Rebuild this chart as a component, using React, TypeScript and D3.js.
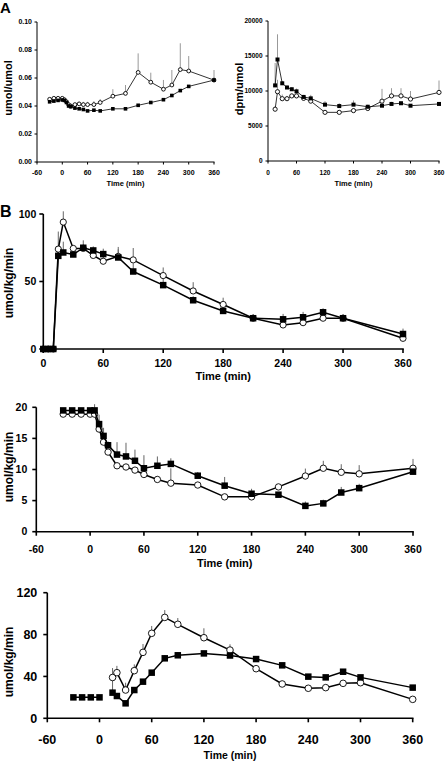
import React from 'react';
import * as d3 from 'd3';

// ---------- Panel A (left): umol/umol ----------
const aLeftTime = [-30, -20, -10, 0, 5, 10, 15, 20, 30, 40, 50, 60, 75, 90, 120, 150, 180, 210, 240, 260, 280, 300, 360];
const aLeftFilled = [0.043, 0.0435, 0.044, 0.0443, 0.044, 0.0425, 0.040, 0.0395, 0.0385, 0.038, 0.0375, 0.0365, 0.037, 0.0365, 0.038, 0.038, 0.0405, 0.0425, 0.0445, 0.0475, 0.051, 0.054, 0.0585];
const aLeftFilledErr = [0, 0, 0, 0, 0, 0, 0, 0, 0, 0, 0, 0, 0, 0, 0, 0, 0, 0, 0, 0, 0, 0, 0];
const aLeftOpen = [0.0448, 0.0455, 0.0455, 0.0455, 0.0445, 0.043, 0.041, 0.040, 0.041, 0.0415, 0.041, 0.041, 0.041, 0.0425, 0.047, 0.049, 0.064, 0.057, 0.052, 0.055, 0.066, 0.065, 0.0585];
const aLeftOpenErr = [0.001, 0.001, 0.001, 0.001, 0.001, 0.001, 0.001, 0.001, 0.001, 0.0015, 0.002, 0.002, 0.0025, 0.0025, 0.005, 0.006, 0.0136, 0.0068, 0.0066, 0.0107, 0.0188, 0.0107, 0.0072];
const aLeftXTicks = [-60, 0, 60, 120, 180, 240, 300, 360];
const aLeftYTicks = [0, 0.02, 0.04, 0.06, 0.08, 0.10];

// ---------- Panel A (right): dpm/umol ----------
const aRightTime = [15, 20, 30, 40, 50, 60, 75, 90, 120, 150, 180, 210, 240, 260, 280, 300, 360];
const aRightFilled = [10800, 14500, 11100, 10500, 10250, 9950, 9150, 8950, 8050, 7850, 8050, 7750, 7900, 8150, 8250, 7900, 8150];
const aRightFilledErr = [3200, 3600, 300, 300, 300, 400, 300, 500, 500, 400, 600, 300, 200, 300, 300, 200, 200];
const aRightOpen = [7400, 9900, 8900, 8900, 9300, 9300, 8950, 8550, 6950, 6950, 7200, 7500, 8550, 9300, 9300, 8850, 9800];
const aRightOpenErr = [400, 1700, 600, 400, 300, 300, 300, 300, 300, 300, 300, 300, 1750, 1100, 1100, 1150, 1700];
const aRightXTicks = [0, 60, 120, 180, 240, 300, 360];
const aRightYTicks = [0, 5000, 10000, 15000, 20000];

// ---------- Panel B (top) ----------
const bTopTime = [0, 5, 10, 15, 20, 30, 40, 50, 60, 75, 90, 120, 150, 180, 210, 240, 260, 280, 300, 360];
const bTopFilled = [0, 0, 0, 69, 71.5, 70, 75, 73, 70.3, 67.8, 57.4, 47.3, 36.1, 28.2, 22.8, 22, 23.5, 27.2, 22.8, 11.1];
const bTopFilledErr = [0, 0, 0, 0, 8, 2, 5.5, 3, 4, 6, 6, 5, 3, 2, 3, 4, 4, 3, 2, 4];
const bTopOpen = [0, 0, 0, 74, 94, 74.5, 74.5, 69.3, 65, 68.6, 66, 54.4, 43, 33, 22.8, 17.8, 19.5, 22.8, 22.8, 7.9];
const bTopOpenErr = [0, 0, 0, 13, 8, 2, 3, 3, 5, 7, 8.8, 6, 6.5, 5, 2, 2, 2, 2, 3, 2];
const bTopXTicks = [0, 60, 120, 180, 240, 300, 360];
const bTopYTicks = [0, 50, 100];

// ---------- Panel B (middle) ----------
const bMidTime = [-30, -20, -10, 0, 5, 10, 15, 20, 30, 40, 50, 60, 75, 90, 120, 150, 180, 210, 240, 260, 280, 300, 360];
const bMidFilled = [19.5, 19.5, 19.5, 19.5, 19.5, 17.3, 15.4, 13.9, 12.4, 12.1, 11.4, 10.2, 10.6, 10.9, 9.0, 7.4, 6.1, 5.95, 4.15, 4.55, 6.3, 7.0, 9.65];
const bMidFilledErr = [0.3, 0.3, 0.3, 0.3, 1.0, 1.5, 1.3, 0.6, 2.0, 2.2, 1.8, 2.1, 1.5, 0.9, 0.6, 1.4, 0.8, 0, 0.7, 0.6, 0.9, 0.7, 0];
const bMidOpen = [18.9, 18.9, 18.9, 18.9, 18.9, 16.5, 14.4, 12.8, 10.6, 10.4, 9.9, 9.2, 8.4, 7.8, 7.5, 5.6, 5.6, 7.2, 8.95, 10.2, 9.55, 9.3, 10.2];
const bMidOpenErr = [0.3, 0.3, 0.3, 0.3, 0.3, 1.5, 0.8, 0.5, 0.5, 0.5, 0.5, 0.5, 0.5, 2.4, 0.5, 0, 0, 0.4, 1.2, 1.2, 1.3, 1.4, 1.5];
const bMidXTicks = [-60, 0, 60, 120, 180, 240, 300, 360];
const bMidYTicks = [0, 5, 10, 15, 20];

// ---------- Panel B (bottom) ----------
const bBotFilledTime = [-30, -20, -10, 0, 10, 15, 20, 30, 40, 50, 60, 75, 90, 120, 150, 180, 210, 240, 260, 280, 300, 360];
const bBotFilled = [20, 20, 20, 20, null, 24.5, 21.3, 14.3, 27, 35, 43.6, 57.3, 60.2, 62, 60, 56.6, 50.6, 39.8, 39.1, 44.5, 39.1, 29.3];
const bBotFilledErr = [0, 0, 0, 0, 0, 13, 0, 0, 0, 0, 2, 3, 3, 0, 0, 0, 0, 0, 0, 0, 0, 0];
const bBotOpenTime = [15, 20, 30, 40, 50, 60, 75, 90, 120, 150, 180, 210, 240, 260, 280, 300, 360];
const bBotOpen = [39, 43.6, 27, 45.5, 63, 81.2, 96.4, 89.8, 77, 65.2, 47.4, 32.8, 28.7, 29.3, 33.4, 34, 18.1];
const bBotOpenErr = [9, 6.5, 7, 6, 8, 7, 7, 6, 9, 5.5, 0, 0, 0, 0, 0, 0, 0];
const bBotXTicks = [-60, 0, 60, 120, 180, 240, 300, 360];
const bBotYTicks = [0, 40, 80, 120];

type Series = { t: number[]; v: (number | null)[]; e: number[]; kind: 'open' | 'filled' };
type PanelCfg = {
  xDomain: [number, number]; xRange: [number, number];
  yDomain: [number, number]; yRange: [number, number];
  xTicks: number[]; yTicks: number[]; yFmt: (d: number) => string;
  tickFont: number; xTickBase: number; yLabelGap: number; tickLen: number;
  axisW: number; lineW: number; sq: number; cr: number;
  yLabel: string; yLabelX: number; yLabelY: number; yLabelFont: number;
  xLabelY: number; xLabelFont: number; errColor: string;
  series: Series[];
};

const FONT = 'Liberation Sans, Arial, sans-serif';

function Panel({ c }: { c: PanelCfg }) {
  const x = d3.scaleLinear().domain(c.xDomain).range(c.xRange);
  const y = d3.scaleLinear().domain(c.yDomain).range(c.yRange);
  const line = d3.line<[number, number | null]>()
    .defined(d => d[1] !== null)
    .x(d => x(d[0]))
    .y(d => y(d[1] as number));
  const ordered = [...c.series].sort((a, b) => (a.kind === 'open' ? 0 : 1) - (b.kind === 'open' ? 0 : 1));
  const x0 = c.xRange[0];
  const y0 = c.yRange[0];
  const xMid = (c.xRange[0] + c.xRange[1]) / 2;
  return (
    <g>
      {/* axes */}
      <line x1={x0} x2={c.xRange[1] + c.axisW / 2} y1={y0} y2={y0} stroke="#000" strokeWidth={c.axisW} />
      <line x1={x0} x2={x0} y1={y0 + c.axisW / 2} y2={c.yRange[1]} stroke="#000" strokeWidth={c.axisW} />
      {c.xTicks.map(t => (
        <g key={'xt' + t}>
          <line x1={x(t)} x2={x(t)} y1={y0} y2={y0 + c.tickLen} stroke="#000" strokeWidth={c.axisW} />
          <text x={x(t)} y={c.xTickBase} textAnchor="middle" fontSize={c.tickFont} fontWeight="bold" fontFamily={FONT}>{t}</text>
        </g>
      ))}
      {c.yTicks.map(t => (
        <g key={'yt' + t}>
          <line x1={x0 - c.tickLen} x2={x0} y1={y(t)} y2={y(t)} stroke="#000" strokeWidth={c.axisW} />
          <text x={x0 - c.yLabelGap} y={y(t)} dy="0.35em" textAnchor="end" fontSize={c.tickFont} fontWeight="bold" fontFamily={FONT}>{c.yFmt(t)}</text>
        </g>
      ))}
      <text transform={`translate(${c.yLabelX},${c.yLabelY}) rotate(-90)`} textAnchor="middle" fontSize={c.yLabelFont} fontWeight="bold" fontFamily={FONT}>{c.yLabel}</text>
      <text x={xMid} y={c.xLabelY} textAnchor="middle" fontSize={c.xLabelFont} fontWeight="bold" fontFamily={FONT}>Time (min)</text>
      {/* error bars */}
      {ordered.map((s, si) => s.t.map((t, i) => {
        const v = s.v[i];
        if (v === null || !s.e[i]) return null;
        return <line key={`e${si}-${i}`} x1={x(t)} x2={x(t)} y1={y(v)} y2={y(v + s.e[i])} stroke={c.errColor} strokeWidth={1} />;
      }))}
      {/* lines and markers */}
      {ordered.map((s, si) => (
        <g key={'s' + si}>
          <path d={line(s.t.map((t, i) => [t, s.v[i]] as [number, number | null])) || ''} fill="none" stroke="#000" strokeWidth={c.lineW} />
          {s.t.map((t, i) => {
            const v = s.v[i];
            if (v === null) return null;
            return s.kind === 'filled'
              ? <rect key={i} x={x(t) - c.sq / 2} y={y(v) - c.sq / 2} width={c.sq} height={c.sq} fill="#000" />
              : <circle key={i} cx={x(t)} cy={y(v)} r={c.cr} fill="#fff" stroke="#000" strokeWidth={0.9} />;
          })}
        </g>
      ))}
    </g>
  );
}

const fmt2 = (d: number) => d.toFixed(2);
const fmt0 = (d: number) => String(d);

const panels: PanelCfg[] = [
  {
    xDomain: [-60, 360], xRange: [37, 214], yDomain: [0, 0.1], yRange: [162, 22],
    xTicks: aLeftXTicks, yTicks: aLeftYTicks, yFmt: fmt2,
    tickFont: 7, xTickBase: 175, yLabelGap: 5, tickLen: 2.5, axisW: 1, lineW: 0.8, sq: 3.6, cr: 1.9,
    yLabel: 'umol/umol', yLabelX: 12, yLabelY: 88, yLabelFont: 11,
    xLabelY: 186, xLabelFont: 7.5, errColor: '#999',
    series: [
      { t: aLeftTime, v: aLeftOpen, e: aLeftOpenErr, kind: 'open' },
      { t: aLeftTime, v: aLeftFilled, e: aLeftFilledErr, kind: 'filled' },
    ],
  },
  {
    xDomain: [0, 360], xRange: [268, 439], yDomain: [0, 20000], yRange: [161, 21],
    xTicks: aRightXTicks, yTicks: aRightYTicks, yFmt: fmt0,
    tickFont: 6.5, xTickBase: 175, yLabelGap: 5.5, tickLen: 2.5, axisW: 1, lineW: 0.8, sq: 4, cr: 2.1,
    yLabel: 'dpm/umol', yLabelX: 242.5, yLabelY: 89, yLabelFont: 11,
    xLabelY: 186, xLabelFont: 7.5, errColor: '#999',
    series: [
      { t: aRightTime, v: aRightOpen, e: aRightOpenErr, kind: 'open' },
      { t: aRightTime, v: aRightFilled, e: aRightFilledErr, kind: 'filled' },
    ],
  },
  {
    xDomain: [0, 360], xRange: [43.3, 403], yDomain: [0, 100], yRange: [349, 214],
    xTicks: bTopXTicks, yTicks: bTopYTicks, yFmt: fmt0,
    tickFont: 10.5, xTickBase: 366.5, yLabelGap: 7, tickLen: 4, axisW: 1.6, lineW: 1.5, sq: 6.5, cr: 3.1,
    yLabel: 'umol/kg/min', yLabelX: 12.5, yLabelY: 283, yLabelFont: 12,
    xLabelY: 380, xLabelFont: 11, errColor: '#666',
    series: [
      { t: bTopTime, v: bTopOpen, e: bTopOpenErr, kind: 'open' },
      { t: bTopTime, v: bTopFilled, e: bTopFilledErr, kind: 'filled' },
    ],
  },
  {
    xDomain: [-60, 360], xRange: [36.3, 413], yDomain: [0, 20], yRange: [531.7, 407.3],
    xTicks: bMidXTicks, yTicks: bMidYTicks, yFmt: fmt0,
    tickFont: 10.5, xTickBase: 552.5, yLabelGap: 9, tickLen: 4, axisW: 1.6, lineW: 1.5, sq: 6.5, cr: 3.2,
    yLabel: 'umol/kg/min', yLabelX: 12.5, yLabelY: 467, yLabelFont: 12,
    xLabelY: 567, xLabelFont: 11, errColor: '#666',
    series: [
      { t: bMidTime, v: bMidOpen, e: bMidOpenErr, kind: 'open' },
      { t: bMidTime, v: bMidFilled, e: bMidFilledErr, kind: 'filled' },
    ],
  },
  {
    xDomain: [-60, 360], xRange: [47.3, 412.7], yDomain: [0, 120], yRange: [718.3, 592.7],
    xTicks: bBotXTicks, yTicks: bBotYTicks, yFmt: fmt0,
    tickFont: 12.5, xTickBase: 743.5, yLabelGap: 10, tickLen: 4, axisW: 1.6, lineW: 1.5, sq: 6.5, cr: 3.3,
    yLabel: 'umol/kg/min', yLabelX: 12.5, yLabelY: 662, yLabelFont: 12,
    xLabelY: 759, xLabelFont: 10.5, errColor: '#666',
    series: [
      { t: bBotOpenTime, v: bBotOpen, e: bBotOpenErr, kind: 'open' },
      { t: bBotFilledTime, v: bBotFilled, e: bBotFilledErr, kind: 'filled' },
    ],
  },
];

export default function App() {
  return (
    <svg width={445} height={762} style={{ position: 'absolute', left: 0, top: 0, background: '#fff' }}>
      <rect width={445} height={762} fill="#fff" />
      <text x={0} y={13} fontSize={15} fontWeight="bold" fontFamily={FONT}>A</text>
      <text x={0} y={217} fontSize={16} fontWeight="bold" fontFamily={FONT}>B</text>
      {panels.map((p, i) => <Panel key={i} c={p} />)}
    </svg>
  );
}
